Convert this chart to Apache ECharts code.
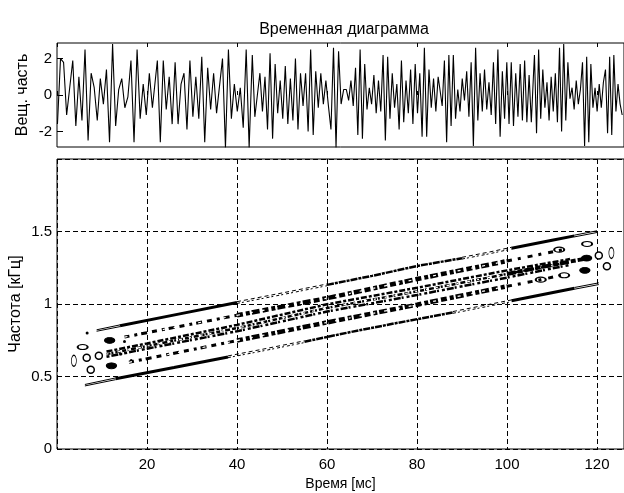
<!DOCTYPE html>
<html>
<head>
<meta charset="utf-8">
<title>Временная диаграмма</title>
<style>
  html, body { margin: 0; padding: 0; background: #fff; }
  #chart { width: 624px; height: 493px; }
</style>
<script src="https://cdn.jsdelivr.net/npm/echarts@6/dist/echarts.min.js"></script>
</head>
<body>
<div id="chart"></div>
<script>
const titleText = 'Временная диаграмма'
const signalTickValues = [-2, 0, 2]
const timeTicks = [20, 40, 60, 80, 100, 120]
const freqTicks = [0, 0.5, 1, 1.5]

// signal extremes, one list per stretch of the time axis
const signalSpans = [[0.1, 21.2], [22.3, 42.7], [43.4, 63.7], [64.3, 84.7], [85.1, 105.9], [106.1, 125.6]]
const signalA = [-1.6, 2.0, 1.8, -1.1, 0.4, 1.9, -1.7, 1.0, -1.4, 2.5, -2.5, 1.2, 0.4, -1.4, 0.9, -0.5, 1.4, -2.6, 2.8, -1.7, 0.3, 0.9, -0.7, -0.1, 1.9, -2.6, 2.5, -1.3, 0.6, -1.1, 1.2, -0.7]
const signalB = [1.9, -2.6, 1.9, -0.8, 1.0, -1.6, 1.8, -1.6, 0.6, 1.2, -1.9, 1.9, -1.2, 1.0, -1.3, 2.1, -2.6, 1.5, -0.8, 1.2, -1.0, 0.5, 2.0, -2.9, 2.5, -1.3, 0.6, -0.9, 0.4, -1.8, 2.5, -2.9]
const signalC = [2.2, -1.2, 0.0, 1.2, -0.9, 1.0, -1.9, 2.3, -2.4, 1.7, -1.0, 0.8, -1.3, 1.6, -1.6, 0.9, -1.4, 2.0, -1.9, 1.2, -0.6, 1.2, -2.0, 2.5, -2.2, 1.3, -0.7, 1.2, -0.5, 0.8, -0.6, -1.9, 2.6, -2.9, 2.4, -0.5, 0.3]
const signalD = [0.3, -0.3, 0.8, -0.6, 1.5, -2.2, 2.5, -2.4, 1.7, -0.8, 0.4, -0.5, 1.1, -1.0, 0.8, -0.9, 2.2, -2.5, 2.1, -1.3, 1.2, -0.7, 0.6, -1.9, 1.9, -1.5, 0.8, -1.0, 1.4, -1.6, 1.7, -1.0, 1.2, -2.3, 2.6, -2.3, 1.4, -0.7, 0.9, -0.9, 1.0]
const signalE = [0.3, -0.6, 1.9, -2.6, 2.2, -1.7, 2.2, -1.3, 0.3, -0.9, 0.9, -0.3, 1.3, -1.2, 1.8, -2.8, 2.6, -1.4, 1.2, -0.9, 1.4, -0.8, 0.7, -1.1, 1.8, -1.6, 2.5, -2.3, 1.3, -1.3, 1.8, -1.6, 1.8, -1.7, 1.2, -1.2, 1.7, -1.4, 1.9, -1.5, 1.1, -1.5, 1.2]
const signalF = [2.2, -2.1, 2.5, -1.3, 1.4, -0.7, 0.7, -1.4, 1.0, -0.9, 1.2, -1.5, 2.6, -2.0, 2.8, -1.4, 1.8, -0.2, 0.4, -0.8, 0.8, -0.5, 0.3, 1.8, -2.8, 2.1, -2.6, 1.7, -0.7, 0.4, -0.9, 0.6, -0.7, 0.7, 1.4, -2.1, 2.1, -2.2, 2.2, -0.9, 0.6, -0.5, -1.1]
const signalParts = [signalA, signalB, signalC, signalD, signalE, signalF]

// contour ridges of the spectrogram: [time ms, frequency kHz], pieces cut where the stroke changes
const outerHeavy = [
  [[14, 0.85], [27, 0.93], [40, 1.01]],
  [[101, 1.385], [110, 1.44], [115, 1.47]],
  [[13, 0.484], [26, 0.562], [38, 0.635]],
  [[101, 1.022], [108, 1.065], [115, 1.108]]
]
const outerThin = [
  [[8.8, 0.812], [14, 0.844]], [[8.8, 0.822], [14, 0.856]],
  [[115, 1.463], [120, 1.493]], [[115, 1.475], [120, 1.505]],
  [[6.2, 0.435], [13, 0.478]], [[6.2, 0.445], [13, 0.49]],
  [[115, 1.102], [120.4, 1.134]], [[115, 1.114], [120.4, 1.146]]
]
const outerDashedA = [
  [[40, 1.016], [50, 1.076], [60, 1.138]],
  [[90, 1.322], [96, 1.358], [101, 1.391]],
  [[38, 0.642], [46, 0.69], [55, 0.746]],
  [[88, 0.948], [94, 0.985], [101, 1.028]]
]
const outerDashedB = [
  [[40, 1.004], [50, 1.064], [60, 1.126]],
  [[90, 1.31], [96, 1.346], [101, 1.379]],
  [[38, 0.63], [46, 0.678], [55, 0.734]],
  [[88, 0.936], [94, 0.973], [101, 1.016]]
]
const outerMottled = [
  [[60, 1.132], [70, 1.194], [80, 1.262], [90, 1.316]],
  [[55, 0.74], [65, 0.805], [75, 0.866], [88, 0.942]]
]
const ridgeSecondLeft = [[15, 0.772], [20, 0.802], [30, 0.862], [40, 0.922]]
const ridgeSecondMid = [[40, 0.922], [60, 1.04], [80, 1.172], [100, 1.296]]
const ridgeSecondRight = [[100, 1.296], [106, 1.334], [113, 1.378]]
const ridgeFourthLeft = [[16, 0.598], [20, 0.623], [30, 0.685], [40, 0.748]]
const ridgeFourthMid = [[40, 0.748], [60, 0.873], [80, 0.995], [100, 1.122]]
const ridgeFourthRight = [[100, 1.122], [106, 1.158], [112, 1.197]]
const ridgeThirdUpper = [[11, 0.672], [20, 0.728], [40, 0.856], [60, 0.998], [80, 1.112], [100, 1.232], [114, 1.31]]
const ridgeThirdMiddle = [[11, 0.654], [20, 0.71], [40, 0.834], [60, 0.973], [80, 1.087], [100, 1.207], [114, 1.29]]
const ridgeThirdLower = [[11, 0.636], [20, 0.692], [40, 0.812], [60, 0.948], [80, 1.062], [100, 1.182], [114, 1.27]]
const ridgeThirdEnd = [[100, 1.207], [106, 1.245], [114, 1.293], [118, 1.316]]

// small closed contours at both ends of the ridges
const islandsWide = [[5.7, 0.703], [111.6, 1.375], [112.7, 1.198], [107.5, 1.168], [117.8, 1.414]]
const islandsTall = [[3.75, 0.608], [123.2, 1.352]]
const islandsRound = [[6.6, 0.629], [7.5, 0.546], [9.3, 0.643], [120.4, 1.334], [122.2, 1.26]]
const islandsFilled = [[11.7, 0.749], [12.1, 0.574], [117.7, 1.317], [117.3, 1.232]]
const islandsDots = [[6.7, 0.80], [15, 0.741], [14.2, 0.655], [16.5, 0.61]]

const FONT = 'Liberation Sans'
const BLACK = '#000'
const WHITE = '#fff'

function signalPoints() {
  const points = []
  signalParts.forEach((part, i) => {
    const [from, to] = signalSpans[i]
    part.forEach((v, j) => points.push([from + (to - from) * j / (part.length - 1), v]))
  })
  return points
}

function ridgeSeries(pieces, width, dash, color = BLACK) {
  return pieces.map((piece) => ({
    type: 'line',
    xAxisIndex: 2,
    yAxisIndex: 1,
    data: piece,
    showSymbol: false,
    silent: true,
    lineStyle: { color, width, type: dash, cap: 'butt' }
  }))
}

function islandSeries(points, size, fill, border) {
  return {
    type: 'scatter',
    xAxisIndex: 2,
    yAxisIndex: 1,
    data: points,
    symbol: 'circle',
    symbolSize: size,
    silent: true,
    itemStyle: { color: fill, borderColor: BLACK, borderWidth: border, opacity: 1 }
  }
}

const tickStyle = { color: BLACK, fontFamily: FONT, fontSize: 15 }
const nameStyle = { color: BLACK, fontFamily: FONT, fontSize: 16 }

const option = {
  animation: false,
  backgroundColor: WHITE,
  title: {
    text: titleText,
    left: 339,
    top: 17,
    textAlign: 'center',
    textStyle: { color: BLACK, fontFamily: FONT, fontSize: 16, fontWeight: 'normal' }
  },
  grid: [
    { left: 57, top: 43, width: 567, height: 104, show: true, borderColor: BLACK, borderWidth: 1, backgroundColor: WHITE, outerBoundsMode: 'none' },
    { left: 57, top: 159, width: 567, height: 290, show: true, borderColor: BLACK, borderWidth: 1, backgroundColor: WHITE, outerBoundsMode: 'none' }
  ],
  xAxis: [
    {
      type: 'value', gridIndex: 0, min: 0, max: 126, interval: 20,
      axisLine: { show: false },
      axisLabel: { show: false },
      axisTick: { inside: true, length: 4, lineStyle: { color: BLACK } },
      splitLine: { show: false }
    },
    {
      type: 'value', gridIndex: 0, position: 'top', min: 0, max: 126, interval: 20,
      axisLine: { show: false },
      axisLabel: { show: false },
      axisTick: { inside: true, length: 4, lineStyle: { color: BLACK } },
      splitLine: { show: false }
    },
    {
      type: 'value', gridIndex: 1, min: 0, max: 126, interval: 20,
      name: 'Время [мс]',
      nameLocation: 'middle',
      nameGap: 26,
      nameTextStyle: { color: BLACK, fontFamily: FONT, fontSize: 14 },
      axisLine: { show: false },
      axisTick: { show: false },
      axisLabel: { ...tickStyle, margin: 8, customValues: timeTicks },
      splitLine: { show: true, lineStyle: { color: BLACK, type: [5, 3], width: 1 } }
    }
  ],
  yAxis: [
    {
      type: 'value', gridIndex: 0, min: -2.86, max: 2.86,
      name: 'Вещ. часть',
      nameLocation: 'middle',
      nameGap: 26,
      nameMoveOverlap: false,
      nameTextStyle: nameStyle,
      axisLine: { show: false },
      axisTick: { inside: true, length: 6, customValues: signalTickValues, lineStyle: { color: BLACK } },
      axisLabel: { ...tickStyle, margin: 5, customValues: signalTickValues },
      splitLine: { show: false }
    },
    {
      type: 'value', gridIndex: 1, min: 0, max: 2, interval: 0.5,
      name: 'Частота [кГц]',
      nameLocation: 'middle',
      nameGap: 33,
      nameMoveOverlap: false,
      nameTextStyle: nameStyle,
      axisLine: { show: false },
      axisTick: { show: false },
      axisLabel: { ...tickStyle, margin: 5, customValues: freqTicks },
      splitLine: { show: true, lineStyle: { color: BLACK, type: [5, 3], width: 1 } }
    }
  ],
  series: [
    {
      type: 'line',
      xAxisIndex: 0,
      yAxisIndex: 0,
      data: signalPoints(),
      showSymbol: false,
      silent: true,
      lineStyle: { color: BLACK, width: 1.1 }
    },
    ...ridgeSeries(outerHeavy, 3, 'solid'),
    ...ridgeSeries(outerThin, 1, 'solid'),
    ...ridgeSeries(outerDashedA, 1, [4, 3]),
    ...ridgeSeries(outerDashedB, 1, [3, 2, 2, 3]),
    ...ridgeSeries(outerMottled, 2.5, [7, 1, 3, 1]),
    ...ridgeSeries([ridgeSecondLeft, ridgeFourthLeft], 3, [5, 5, 3, 4, 6, 5]),
    ...ridgeSeries([ridgeSecondMid, ridgeFourthMid], 4.5, [6, 3, 4, 2, 8, 3]),
    ...ridgeSeries([ridgeSecondRight, ridgeFourthRight], 3, [5, 6, 3, 7]),
    ...ridgeSeries([ridgeSecondLeft, ridgeFourthLeft, ridgeSecondMid, ridgeFourthMid], 1.2, [3, 11, 2, 9], WHITE),
    ...ridgeSeries([ridgeThirdUpper], 2.5, [6, 2, 3, 2]),
    ...ridgeSeries([ridgeThirdMiddle], 2.5, [4, 1, 2, 2, 5, 2]),
    ...ridgeSeries([ridgeThirdLower], 2.5, [3, 2, 7, 1, 2, 3]),
    ...ridgeSeries([ridgeThirdMiddle], 1.2, [2, 9, 3, 7], WHITE),
    ...ridgeSeries([ridgeThirdEnd], 4, [9, 2, 5, 2]),
    islandSeries(islandsWide, [10, 5], WHITE, 1.5),
    islandSeries(islandsTall, [5, 11], WHITE, 1),
    islandSeries(islandsRound, 7, WHITE, 1.5),
    islandSeries(islandsFilled, [10, 6], BLACK, 1),
    islandSeries(islandsDots, 3, BLACK, 0)
  ]
}

const chart = echarts.init(document.getElementById('chart'), null, { renderer: 'canvas' })
chart.setOption(option)
</script>
</body>
</html>
